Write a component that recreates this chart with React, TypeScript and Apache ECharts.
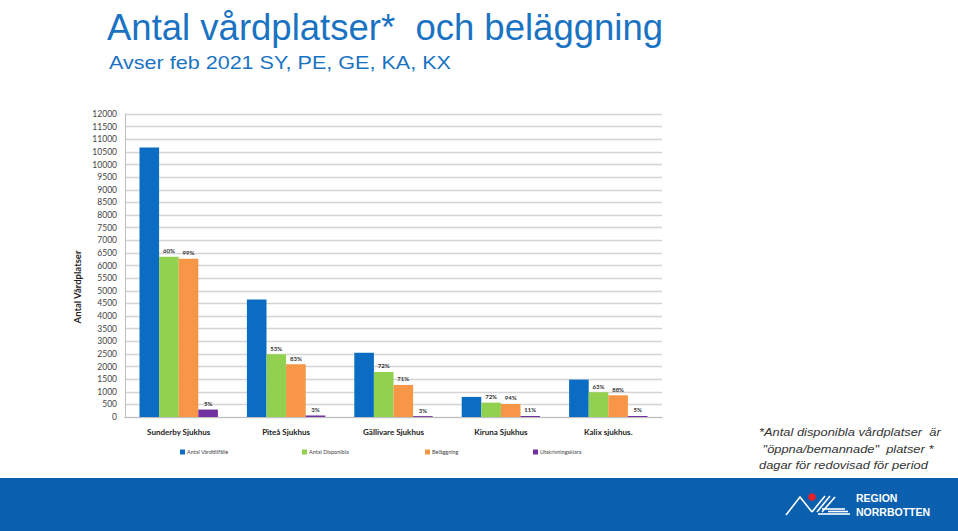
import React, { useEffect, useRef } from "react";
import * as echarts from "echarts";

const categories = ["Sunderby Sjukhus", "Piteå Sjukhus", "Gällivare Sjukhus", "Kiruna Sjukhus", "Kalix sjukhus."];
const seriesNames = ["Antal Vårdtillfälle", "Antal Disponibla", "Beläggning", "Utskrivningsklara"];
const blueValues = [10670, 4655, 2540, 795, 1480];
const greenValues = [6345, 2490, 1785, 570, 980];
const orangeValues = [6265, 2090, 1270, 515, 860];
const purpleValues = [295, 60, 35, 40, 40];
const greenLabels = ["60%", "53%", "72%", "72%", "63%"];
const orangeLabels = ["99%", "83%", "71%", "94%", "88%"];
const purpleLabels = ["5%", "3%", "3%", "11%", "5%"];
const colors = ["#0a6cc2", "#92d050", "#f79646", "#7030a0"];
const legendLefts = [175, 297, 420, 528];
const footnoteLines = ["*Antal disponibla vårdplatser  är", " \"öppna/bemannade\"  platser *", "dagar för redovisad för period"];

export default function App() {
  const ref = useRef<HTMLDivElement>(null);
  useEffect(() => {
    document.body.style.margin = "0";
    const chart = echarts.init(ref.current!, null, { renderer: "svg" });
    const labelStyle = (arr: string[]) => ({
      show: true,
      position: "top" as const,
      distance: 3,
      fontSize: 6,
      fontWeight: "bold" as const,
      color: "#333",
      fontFamily: "Lato",
      formatter: (p: any) => arr[p.dataIndex],
    });
    const logoLines: any[] = [
      [[786, 515], [800, 497], [812, 512]],
      [[812, 512], [825, 496]],
      [[817, 512], [830, 496]],
      [[822, 512], [835, 497]],
      [[822, 509], [845, 509]],
      [[818, 514], [850, 514]],
      [[828, 511.5], [848, 511.5]],
    ].map((pts) => ({
      type: "polyline",
      shape: { points: pts },
      style: { stroke: "#ffffff", lineWidth: 1.6, fill: "none" },
    }));
    chart.setOption({
      animation: false,
      backgroundColor: "#ffffff",
      textStyle: { fontFamily: "Lato" },
      grid: { left: 125, right: 296, top: 114, bottom: 114 },
      legend: seriesNames.map((n, i) => ({
        data: [n],
        left: legendLefts[i],
        top: 444,
        itemWidth: 5,
        itemHeight: 5,
        icon: "rect",
        itemGap: 2,
        textStyle: { fontSize: 5.5, color: "#444", fontFamily: "Lato", padding: [0, 0, 0, -3] },
      })),
      xAxis: {
        type: "category",
        data: categories,
        axisTick: { show: false },
        axisLine: { lineStyle: { color: "#bfbfbf" } },
        axisLabel: { fontSize: 8, fontWeight: "bold", color: "#222", margin: 11, fontFamily: "Lato" },
      },
      yAxis: {
        type: "value",
        min: 0,
        max: 12000,
        interval: 500,
        axisLine: { show: true, lineStyle: { color: "#bfbfbf" } },
        axisTick: { show: false },
        axisLabel: { fontSize: 8.5, color: "#444", margin: 8, fontFamily: "Lato", formatter: (v: number) => String(v) },
        splitLine: { lineStyle: { color: "#d4d4d4", width: 1.3 } },
      },
      series: [
        { name: seriesNames[0], type: "bar", data: blueValues, itemStyle: { color: colors[0] }, barGap: "0%", barCategoryGap: "27%" },
        { name: seriesNames[1], type: "bar", data: greenValues, itemStyle: { color: colors[1] }, label: labelStyle(greenLabels) },
        { name: seriesNames[2], type: "bar", data: orangeValues, itemStyle: { color: colors[2] }, label: labelStyle(orangeLabels) },
        { name: seriesNames[3], type: "bar", data: purpleValues, itemStyle: { color: colors[3] }, label: labelStyle(purpleLabels) },
      ],
      graphic: [
        {
          type: "text",
          left: 107,
          top: 9,
          style: { text: "Antal vårdplatser*  och beläggning", fontSize: 36.5, fill: "#1a73c2", fontFamily: "Liberation Sans" },
        },
        {
          type: "text",
          x: 109,
          y: 53.5,
          scaleX: 1.16,
          style: { text: "Avser feb 2021 SY, PE, GE, KA, KX", fontSize: 18.6, fill: "#1a73c2", fontFamily: "Liberation Sans" },
        },
        {
          type: "text",
          x: 77,
          y: 287,
          rotation: Math.PI / 2,
          style: {
            text: "Antal Vårdplatser",
            fontSize: 9.5,
            fontWeight: "bold",
            fill: "#222",
            fontFamily: "Lato",
            align: "center",
            verticalAlign: "middle",
          },
        },
        ...footnoteLines.map((t, i) => ({
          type: "text",
          x: 759,
          y: 432.7 + i * 16.2,
          scaleX: 1.17,
          style: {
            text: t,
            fontSize: 11,
            fontStyle: "italic",
            fill: "#333",
            fontFamily: "Liberation Sans",
            verticalAlign: "middle",
          },
        })),
        {
          type: "rect",
          shape: { x: 0, y: 478, width: 958, height: 53 },
          style: { fill: "#0a5fae" },
        },
        ...logoLines,
        { type: "circle", shape: { cx: 812, cy: 497, r: 3.8 }, style: { fill: "#e8202a" } },
        {
          type: "text",
          x: 856,
          y: 498,
          style: { text: "REGION", fontSize: 10.5, fontWeight: "bold", fill: "#ffffff", fontFamily: "Liberation Sans", verticalAlign: "middle" },
        },
        {
          type: "text",
          x: 856,
          y: 512,
          style: { text: "NORRBOTTEN", fontSize: 10.5, fontWeight: "bold", fill: "#ffffff", fontFamily: "Liberation Sans", verticalAlign: "middle" },
        },
      ],
    });
    return () => chart.dispose();
  }, []);
  return <div ref={ref} style={{ width: 958, height: 531 }} />;
}
